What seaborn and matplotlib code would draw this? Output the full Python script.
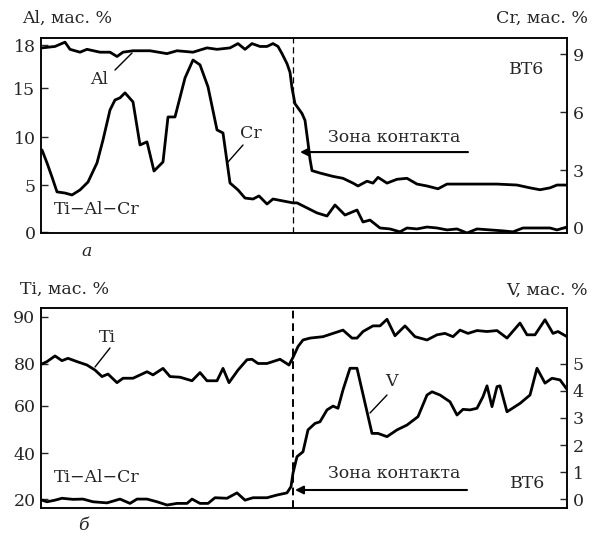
import numpy as np
import pandas as pd
import seaborn as sns
from matplotlib import pyplot as plt

# --- data (x: distance, arbitrary units) ---
top_x_al = [1, 14, 24, 29, 39, 46, 59, 69, 76, 82, 92, 109, 126, 136, 152, 166, 176, 189, 197,
            204, 211, 219, 226, 232, 237, 241, 246, 249, 251, 254, 261, 264, 267, 269, 271, 279,
            292, 302, 312, 317, 326, 332, 337, 346, 356, 366, 376, 386, 397, 406, 422, 439, 456,
            476, 489, 499, 509, 516, 526]
top_al = [17.8, 17.9, 18.2, 17.7, 17.5, 17.7, 17.5, 17.5, 17.2, 17.5, 17.6, 17.6, 17.4, 17.6,
          17.5, 17.8, 17.7, 17.8, 18.1, 17.7, 18.1, 17.9, 17.9, 18.1, 17.9, 17.4, 16.7, 16.1,
          15.0, 13.4, 12.4, 11.7, 9.4, 7.7, 6.5, 6.25, 5.9, 5.7, 5.2, 4.9, 5.4, 5.2, 5.8, 5.2,
          5.6, 5.7, 5.1, 4.9, 4.6, 5.1, 5.1, 5.1, 5.1, 5.0, 4.7, 4.5, 4.7, 5.0, 5.0]

top_x_cr = [1, 6, 11, 16, 24, 31, 39, 47, 56, 62, 69, 74, 79, 84, 92, 99, 106, 113, 122, 127,
            134, 144, 152, 159, 167, 176, 182, 189, 197, 204, 212, 218, 226, 232, 242, 252, 256,
            266, 276, 286, 294, 304, 316, 322, 329, 339, 349, 359, 366, 376, 386, 396, 406, 416,
            426, 436, 449, 462, 472, 482, 496, 509, 516, 526]
top_cr = [4.04, 3.37, 2.64, 1.87, 1.81, 1.71, 1.97, 2.38, 3.37, 4.56, 6.11, 6.63, 6.74, 7.0,
          6.53, 4.30, 4.46, 2.95, 3.42, 5.75, 5.75, 7.77, 8.70, 8.45, 7.31, 5.08, 4.92, 2.33,
          1.97, 1.55, 1.50, 1.66, 1.24, 1.50, 1.40, 1.30, 1.30, 1.04, 0.78, 0.62, 1.19, 0.67,
          0.93, 0.31, 0.41, 0.0, -0.05, -0.2, 0.0, -0.05, 0.05, 0.0, -0.1, -0.05, -0.26, -0.05,
          -0.1, -0.15, -0.2, 0.0, 0.0, 0.0, -0.1, 0.05]

bot_x_ti = [1, 6, 14, 21, 27, 36, 46, 54, 61, 67, 76, 82, 92, 106, 112, 122, 129, 139, 151, 159,
            166, 176, 182, 188, 197, 206, 211, 217, 226, 239, 248, 252, 254, 257, 262, 269, 282,
            292, 302, 311, 316, 322, 332, 339, 346, 354, 364, 374, 386, 396, 404, 412, 419, 427,
            436, 446, 456, 466, 479, 486, 494, 504, 512, 517, 526]
bot_ti = [80.0, 80.5, 81.7, 80.7, 81.2, 80.5, 79.5, 77.1, 74.0, 75.2, 71.1, 73.2, 73.2, 76.3,
          74.8, 77.9, 74.0, 73.7, 72.0, 75.9, 72.0, 72.0, 77.9, 71.1, 77.1, 80.9, 81.0, 80.1,
          80.1, 81.0, 79.5, 81.4, 82.3, 83.7, 85.1, 85.5, 85.8, 86.5, 87.2, 85.5, 85.5, 86.9,
          88.1, 88.1, 89.5, 86.0, 88.1, 85.8, 85.1, 86.2, 86.5, 85.8, 87.2, 86.5, 87.1, 86.9,
          87.1, 85.5, 88.7, 86.2, 86.2, 89.4, 86.5, 86.9, 85.8]

bot_x_v = [1, 6, 14, 21, 32, 42, 52, 66, 79, 89, 96, 106, 116, 126, 136, 146, 151, 159, 167,
           174, 186, 196, 204, 212, 226, 236, 246, 250, 252, 256, 262, 267, 274, 279, 286, 292,
           297, 302, 309, 316, 331, 337, 346, 356, 366, 377, 386, 391, 399, 409, 416, 422, 429,
           436, 442, 446, 451, 456, 459, 466, 479, 489, 496, 504, 511, 519, 526]
bot_v = [-0.04, -0.1, -0.04, 0.03, -0.01, 0.0, -0.1, -0.14, 0.0, -0.16, 0.0, 0.0, -0.1, -0.22,
         -0.16, -0.16, 0.0, -0.16, -0.16, 0.05, 0.03, 0.23, -0.04, 0.05, 0.05, 0.15, 0.23, 0.46,
         0.96, 1.57, 1.75, 2.56, 2.80, 2.86, 3.30, 3.44, 3.36, 4.04, 4.84, 4.84, 2.43, 2.43,
         2.31, 2.56, 2.74, 3.05, 3.85, 3.97, 3.85, 3.60, 3.11, 3.32, 3.30, 3.36, 3.79, 4.19,
         3.42, 4.16, 4.19, 3.23, 3.54, 3.85, 4.84, 4.29, 4.47, 4.41, 4.06]

al_ticks = [0, 5, 10, 15, 18]
cr_ticks = [0, 3, 6, 9]
ti_ticks = [20, 40, 60, 80, 90]
v_ticks = [0, 1, 2, 3, 4, 5]
contact_x = 252

# the printed left axes are not evenly scaled: piecewise mapping of the tick spacing
AL_BREAKS, AL_POS = [-10, 0, 5, 10, 15, 18, 30], [-96, 0, 47, 95, 144, 187, 359]
TI_BREAKS, TI_POS = [0, 20, 40, 60, 80, 90, 120], [-46, 0, 46, 93, 135, 182, 323]


def piecewise(breaks, pos):
    fwd = lambda v: np.interp(v, breaks, pos)
    inv = lambda p: np.interp(p, pos, breaks)
    return fwd, inv


sns.set_style("ticks")
plt.rcParams['font.family'] = ['DejaVu Serif', 'Liberation Serif']
FS = 12.5

fig = plt.figure(figsize=(5.98, 5.38), dpi=100)
W, H = 598, 538
ax_top = fig.add_axes([41 / W, 1 - 233 / H, 526 / W, 195 / H])
ax_bot = fig.add_axes([41 / W, 1 - 508 / H, 526 / W, 200 / H])


def style(ax, side):
    ax.set_xlabel("")
    ax.set_ylabel("")
    ax.set_xticks([])
    ax.tick_params(axis='y', direction='in', length=5, width=1, labelsize=FS, pad=4,
                   left=(side == 'left'), right=(side == 'right'),
                   labelleft=(side == 'left'), labelright=(side == 'right'))
    for sp in ax.spines.values():
        sp.set_visible(True)
        sp.set_linewidth(1.1)
        sp.set_color('black')


ARROW = dict(arrowstyle='-|>', color='black', lw=1.5, mutation_scale=12, shrinkA=0, shrinkB=0)

# ---------- panel a ----------
ax = ax_top
ax.set_yscale('function', functions=piecewise(AL_BREAKS, AL_POS))
sns.lineplot(x=top_x_al, y=top_al, ax=ax, color='black', lw=2)
ax.set_xlim(0, 526)
ax.set_ylim(-0.1, 18.49)
ax.set_yticks(al_ticks, labels=[str(t) for t in al_ticks])
ax.axvline(contact_x, color='black', lw=0.9, ls=(0, (5, 3)))
style(ax, 'left')

ax2 = ax.twinx()
sns.lineplot(x=top_x_cr, y=top_cr, ax=ax2, color='black', lw=2)
ax2.set_ylim(-0.26, 9.84)
ax2.set_yticks(cr_ticks, labels=[str(t) for t in cr_ticks])
style(ax2, 'right')

ax.annotate("", xy=(259, 0.415), xycoords=('data', 'axes fraction'),
            xytext=(427, 0.415), textcoords=('data', 'axes fraction'), arrowprops=ARROW)

# ---------- panel б ----------
ax = ax_bot
ax.set_yscale('function', functions=piecewise(TI_BREAKS, TI_POS))
sns.lineplot(x=bot_x_ti, y=bot_ti, ax=ax, color='black', lw=2)
ax.set_xlim(0, 526)
ax.set_ylim(16.1, 91.9)
ax.set_yticks(ti_ticks, labels=[str(t) for t in ti_ticks])
ax.axvline(contact_x, color='black', lw=1.4, ls=(0, (4, 2.5)))
style(ax, 'left')

ax2 = ax.twinx()
sns.lineplot(x=bot_x_v, y=bot_v, ax=ax2, color='black', lw=2)
ax2.set_ylim(-0.33, 7.07)
ax2.set_yticks(v_ticks, labels=[str(t) for t in v_ticks])
style(ax2, 'right')

ax.annotate("", xy=(254, 0.09), xycoords=('data', 'axes fraction'),
            xytext=(426, 0.09), textcoords=('data', 'axes fraction'), arrowprops=ARROW)


# ---------- texts (figure pixels, y from top) ----------
def ftext(x, y, s, **kw):
    kw.setdefault('fontsize', FS)
    fig.text(x / W, 1 - y / H, s, **kw)


def leader(x1, y1, x2, y2):
    fig.add_artist(plt.Line2D([x1 / W, x2 / W], [1 - y1 / H, 1 - y2 / H], color='black', lw=1))


ftext(22, 18, "Al, мас. %", ha='left', va='center')
ftext(588, 18, "Cr, мас. %", ha='right', va='center')
ftext(394, 137, "Зона контакта", ha='center', va='center')
ftext(527, 70, "ВТ6", ha='center', va='center')
ftext(97, 209, "Ti−Al−Cr", ha='center', va='center')
ftext(87, 252, "а", ha='center', va='center', style='italic')

ftext(20, 289, "Ti, мас. %", ha='left', va='center')
ftext(588, 290, "V, мас. %", ha='right', va='center')
ftext(394, 474, "Зона контакта", ha='center', va='center')
ftext(528, 484, "ВТ6", ha='center', va='center')
ftext(97, 478, "Ti−Al−Cr", ha='center', va='center')
ftext(83, 525, "б", ha='center', va='center', style='italic')

# labelled curves with leader lines
ftext(99, 80, "Al", ha='center', va='center')
leader(115, 70, 132, 53)
ftext(251, 134, "Cr", ha='center', va='center')
leader(243, 145, 228, 162)
ftext(107, 338, "Ti", ha='center', va='center')
leader(110, 348, 95, 367)
ftext(391, 382, "V", ha='center', va='center')
leader(387, 395, 370, 413)

fig.savefig("out.png", dpi=100, facecolor='white')
